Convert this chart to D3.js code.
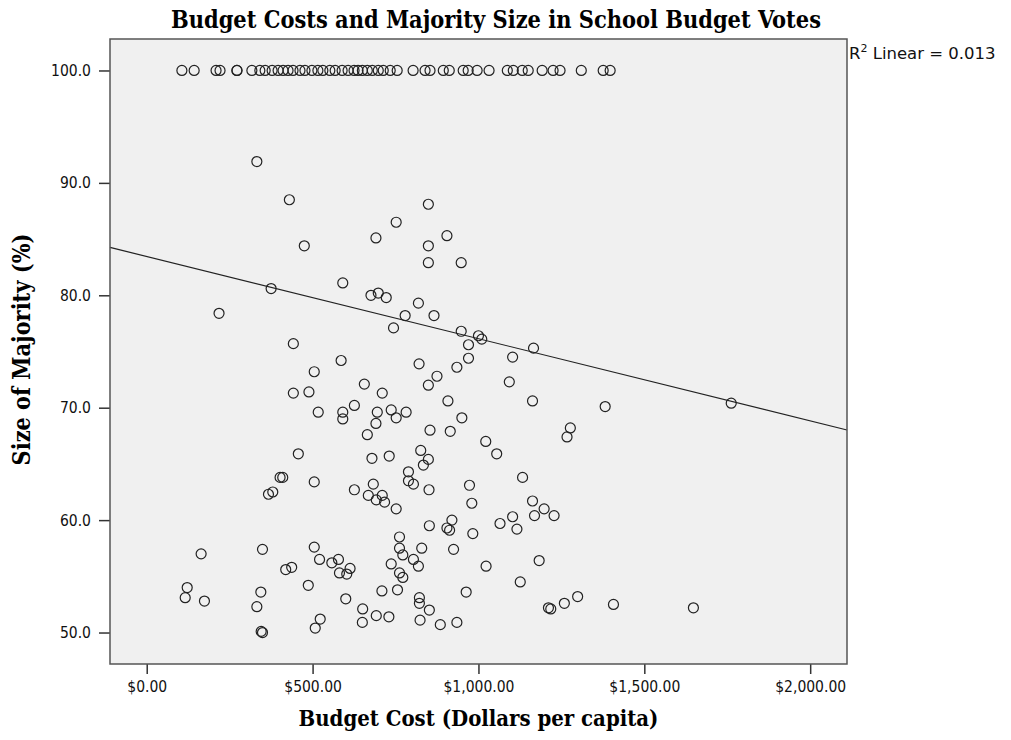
<!DOCTYPE html>
<html>
<head>
<meta charset="utf-8">
<script src="https://cdn.jsdelivr.net/npm/d3@7/dist/d3.min.js"></script>
<style>
  body { margin: 0; background: #fff; }
  svg { display: block; }
</style>
</head>
<body>
<div id="chart"></div>
<script>
// Budget cost (dollars per capita) for votes that passed with 100% majority
const unanimousCosts = [106, 143, 209, 221, 272, 272, 317, 341, 357, 378, 396, 411, 426, 441,
    462, 477, 498, 516, 531, 552, 568, 589, 607, 625, 637, 650, 665, 680, 698, 713, 734, 755,
    803, 839, 854, 894, 912, 954, 969, 996, 1032, 1087, 1105, 1132, 1150, 1192, 1225, 1246,
    1310, 1376, 1397];

// Remaining votes: [budget cost, size of majority %]
const votes = [
    [332, 91.9], [430, 88.5], [849, 88.1], [752, 86.5], [691, 85.1], [905, 85.3], [849, 84.4],
    [475, 84.4], [849, 82.9], [948, 82.9], [591, 81.1], [375, 80.6], [676, 80.0], [698, 80.2],
    [722, 79.8], [819, 79.3], [218, 78.4], [779, 78.2], [866, 78.2], [744, 77.1], [948, 76.8],
    [1000, 76.4], [1010, 76.1], [442, 75.7], [970, 75.6], [586, 74.2], [970, 74.4], [821, 73.9],
    [935, 73.6], [505, 73.2], [875, 72.8], [656, 72.1], [849, 72.0], [442, 71.3], [489, 71.4],
    [710, 71.3], [908, 70.6], [626, 70.2], [517, 69.6], [591, 69.6], [591, 69.0], [695, 69.6],
    [737, 69.8], [782, 69.6], [752, 69.1], [950, 69.1], [691, 68.6], [854, 68.0], [915, 67.9],
    [665, 67.6], [1022, 67.0], [1055, 65.9], [457, 65.9], [826, 66.2], [849, 65.4], [834, 64.9],
    [679, 65.5], [731, 65.7], [789, 64.3], [789, 63.5], [804, 63.2], [402, 63.8], [410, 63.8],
    [505, 63.4], [683, 63.2], [973, 63.1], [367, 62.3], [380, 62.5], [626, 62.7], [851, 62.7],
    [668, 62.2], [710, 62.2], [692, 61.8], [717, 61.6], [980, 61.5], [752, 61.0],
    [1166, 75.3], [1103, 74.5], [1093, 72.3], [1163, 70.6], [1382, 70.1], [1762, 70.4],
    [1277, 68.2], [1267, 67.4], [1133, 63.8], [1163, 61.7], [1198, 61.0],
    [852, 59.5], [905, 59.3], [920, 60.0], [913, 59.1], [983, 58.8], [1065, 59.7], [164, 57.0],
    [349, 57.4], [505, 57.6], [521, 56.5], [558, 56.2], [578, 56.5], [613, 55.7], [581, 55.3],
    [603, 55.2], [762, 58.5], [762, 57.5], [772, 56.9], [829, 57.5], [804, 56.5], [819, 55.9],
    [737, 56.1], [762, 55.3], [772, 54.9], [925, 57.4], [1023, 55.9], [419, 55.6], [437, 55.8],
    [487, 54.2], [122, 54.0], [116, 53.1], [174, 52.8], [344, 53.6], [332, 52.3], [345, 50.1],
    [349, 50.0], [600, 53.0], [709, 53.7], [756, 53.8], [963, 53.6], [822, 53.1], [822, 52.6],
    [852, 52.0], [651, 52.1], [650, 50.9], [692, 51.5], [730, 51.4], [824, 51.1], [885, 50.7],
    [935, 50.9], [523, 51.2], [508, 50.4],
    [1169, 60.4], [1228, 60.4], [1103, 60.3], [1116, 59.2], [1183, 56.4], [1126, 54.5],
    [1211, 52.2], [1218, 52.1], [1259, 52.6], [1299, 53.2], [1407, 52.5], [1648, 52.2]
];

// Linear fit shown on the chart
const fitIntercept = 83.45;
const fitSlope = -0.00731;
const rSquared = '0.013';

const xTicks = [0, 500, 1000, 1500, 2000];
const yTicks = [50, 60, 70, 80, 90, 100];

const width = 1011;
const height = 740;
const margin = { top: 39, right: 164, bottom: 76, left: 110 };
const innerW = width - margin.left - margin.right;
const innerH = height - margin.top - margin.bottom;

const points = unanimousCosts.map(c => [c, 100]).concat(votes);

const svg = d3.select('#chart')
    .append('svg')
    .attr('width', width)
    .attr('height', height);

const g = svg.append('g')
    .attr('transform', `translate(${margin.left},${margin.top})`);

const xScale = d3.scaleLinear().domain([-110.7, 2111]).range([0, innerW]);
const yScale = d3.scaleLinear().domain([47.2, 102.8]).range([innerH, 0]);

// Plot background
g.append('rect')
    .attr('width', innerW)
    .attr('height', innerH)
    .attr('fill', '#f0f0f0');

// Axes
const xAxis = d3.axisBottom(xScale)
    .tickValues(xTicks)
    .tickSize(10)
    .tickSizeOuter(0)
    .tickPadding(7)
    .tickFormat(d => '$' + d3.format(',.2f')(d));

const yAxis = d3.axisLeft(yScale)
    .tickValues(yTicks)
    .tickSize(11)
    .tickSizeOuter(0)
    .tickPadding(8)
    .tickFormat(d3.format('.1f'));

g.append('g')
    .attr('class', 'x-axis')
    .attr('transform', `translate(0,${innerH})`)
    .call(xAxis);

g.append('g')
    .attr('class', 'y-axis')
    .call(yAxis);

g.selectAll('.domain').remove();
g.selectAll('.tick line').attr('stroke', '#333').attr('stroke-width', 1.5);
g.selectAll('.tick text')
    .attr('fill', '#111')
    .style('font-family', '"DejaVu Sans Condensed", "DejaVu Sans", sans-serif')
    .style('font-size', '15.5px');

// Fit line
const fitLine = d3.line()
    .x(d => xScale(d))
    .y(d => yScale(fitIntercept + fitSlope * d));

g.append('path')
    .datum(xScale.domain())
    .attr('d', fitLine)
    .attr('fill', 'none')
    .attr('stroke', '#222')
    .attr('stroke-width', 1.2);

// Points
g.append('g')
    .attr('class', 'dots')
    .selectAll('circle')
    .data(points)
    .enter()
    .append('circle')
    .attr('cx', d => xScale(d[0]))
    .attr('cy', d => yScale(d[1]))
    .attr('r', 5)
    .attr('fill', 'none')
    .attr('stroke', '#222')
    .attr('stroke-width', 1.2);

// Frame on top of the marks
g.append('rect')
    .attr('width', innerW)
    .attr('height', innerH)
    .attr('fill', 'none')
    .attr('stroke', '#555')
    .attr('stroke-width', 1.5);

// Shrink or grow a text element's font so it spans the given width
function fitText(sel, target, base) {
    sel.style('font-size', base + 'px');
    const w = sel.node().getComputedTextLength();
    sel.style('font-size', (base * target / w).toFixed(2) + 'px');
}

const serif = '"DejaVu Serif Condensed", "Liberation Serif", serif';

const title = svg.append('text')
    .attr('x', 496)
    .attr('y', 28)
    .attr('text-anchor', 'middle')
    .style('font-family', serif)
    .style('font-weight', 'bold')
    .text('Budget Costs and Majority Size in School Budget Votes');
fitText(title, 650, 20);

const xLabel = svg.append('text')
    .attr('x', margin.left + innerW / 2)
    .attr('y', 726)
    .attr('text-anchor', 'middle')
    .style('font-family', serif)
    .style('font-weight', 'bold')
    .text('Budget Cost (Dollars per capita)');
fitText(xLabel, 360, 19);

const yLabel = svg.append('text')
    .attr('transform', `translate(30,${margin.top + innerH / 2 - 2}) rotate(-90)`)
    .attr('text-anchor', 'middle')
    .style('font-family', serif)
    .style('font-weight', 'bold')
    .text('Size of Majority (%)');
fitText(yLabel, 232, 19);

// R squared note
const note = svg.append('text')
    .attr('x', margin.left + innerW + 2)
    .attr('y', 59)
    .style('font-family', '"DejaVu Sans", sans-serif')
    .style('font-size', '16.5px')
    .attr('fill', '#111');
note.append('tspan').text('R');
note.append('tspan').attr('dy', -7).style('font-size', '11px').text('2');
note.append('tspan').attr('dy', 7).text(' Linear = ' + rSquared);
</script>
</body>
</html>
